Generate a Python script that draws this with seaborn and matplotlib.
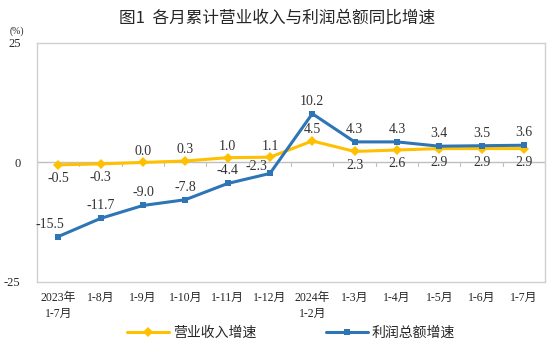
import matplotlib
matplotlib.use("Agg")
import matplotlib.pyplot as plt
import seaborn as sns
import pandas as pd

# data
months = ['2023年\n1-7月', '1-8月', '1-9月', '1-10月', '1-11月', '1-12月',
          '2024年\n1-2月', '1-3月', '1-4月', '1-5月', '1-6月', '1-7月']
revenue = [-0.5, -0.3, 0.0, 0.3, 1.0, 1.1, 4.5, 2.3, 2.6, 2.9, 2.9, 2.9]
profit = [-15.5, -11.7, -9.0, -7.8, -4.4, -2.3, 10.2, 4.3, 4.3, 3.4, 3.5, 3.6]
rev_name = '营业收入增速'
prof_name = '利润总额增速'

# label offsets: +1 above, -1 below
rev_side = [-1, -1, 1, 1, 1, 1, 1, -1, -1, -1, -1, -1]

sns.set_style("white")
plt.rcParams['font.family'] = ['Liberation Serif', 'Noto Sans CJK SC']

df = pd.DataFrame({'x': list(range(len(months))) * 2,
                   'val': revenue + profit,
                   'series': [rev_name] * 12 + [prof_name] * 12})

yellow = '#FFC000'
blue = '#2E75B6'

fig = plt.figure(figsize=(5.54, 3.52), dpi=100)
ax = fig.add_axes([0.067, 0.199, 0.917, 0.679])

sns.lineplot(data=df, x='x', y='val', hue='series', style='series',
             palette={rev_name: yellow, prof_name: blue},
             markers={rev_name: 'D', prof_name: 's'}, dashes=False,
             markersize=5, linewidth=2.2, markeredgewidth=0, ax=ax)

ax.axhline(0, color='#bfbfbf', lw=1, zorder=0)
for i in range(len(months) + 1):
    ax.plot([i - 0.5, i - 0.5], [0, -0.8], color='#bfbfbf', lw=0.8, zorder=0)

ax.set_xlim(-0.5, len(months) - 0.5)
ax.set_ylim(-25, 25)
ax.set_yticks([-25, 0, 25])
ax.set_yticklabels(['-25', '0', '25'], fontsize=9)
ax.set_xticks(range(len(months)))
ax.set_xticklabels(months, fontsize=8.5, linespacing=1.5)
ax.tick_params(length=0, pad=7)
ax.tick_params(axis='y', pad=12)
ax.set_xlabel('')
ax.set_ylabel('')
for s in ax.spines.values():
    s.set_color('#d0d0d0')
    s.set_linewidth(1)

for i, (v, sd) in enumerate(zip(revenue, rev_side)):
    ax.annotate(f'{v:.1f}', (i, v), xytext=(0, 8 if sd > 0 else -10),
                textcoords='offset points', ha='center', va='center',
                fontsize=10, color='#333333')
for i, v in enumerate(profit):
    dx, dy = 0, 9
    if i == 0:
        dx = -6
    if i == 5:
        dx, dy = -10, 5
    ax.annotate(f'{v:.1f}', (i, v), xytext=(dx, dy),
                textcoords='offset points', ha='center', va='center',
                fontsize=10, color='#333333')

fig.text(0.03, 0.91, '(%)', fontsize=7, ha='center', va='center')
fig.text(0.5, 0.947, '图1  各月累计营业收入与利润总额同比增速',
         fontsize=12, ha='center', va='center', fontweight='medium',
         family=['Noto Sans CJK SC', 'DejaVu Sans'])

leg = ax.legend(loc='center', bbox_to_anchor=(0.5, -0.215), ncol=2,
                frameon=False, fontsize=10, handlelength=3, columnspacing=5,
                handletextpad=0.3)

fig.savefig('out.png', dpi=100)
